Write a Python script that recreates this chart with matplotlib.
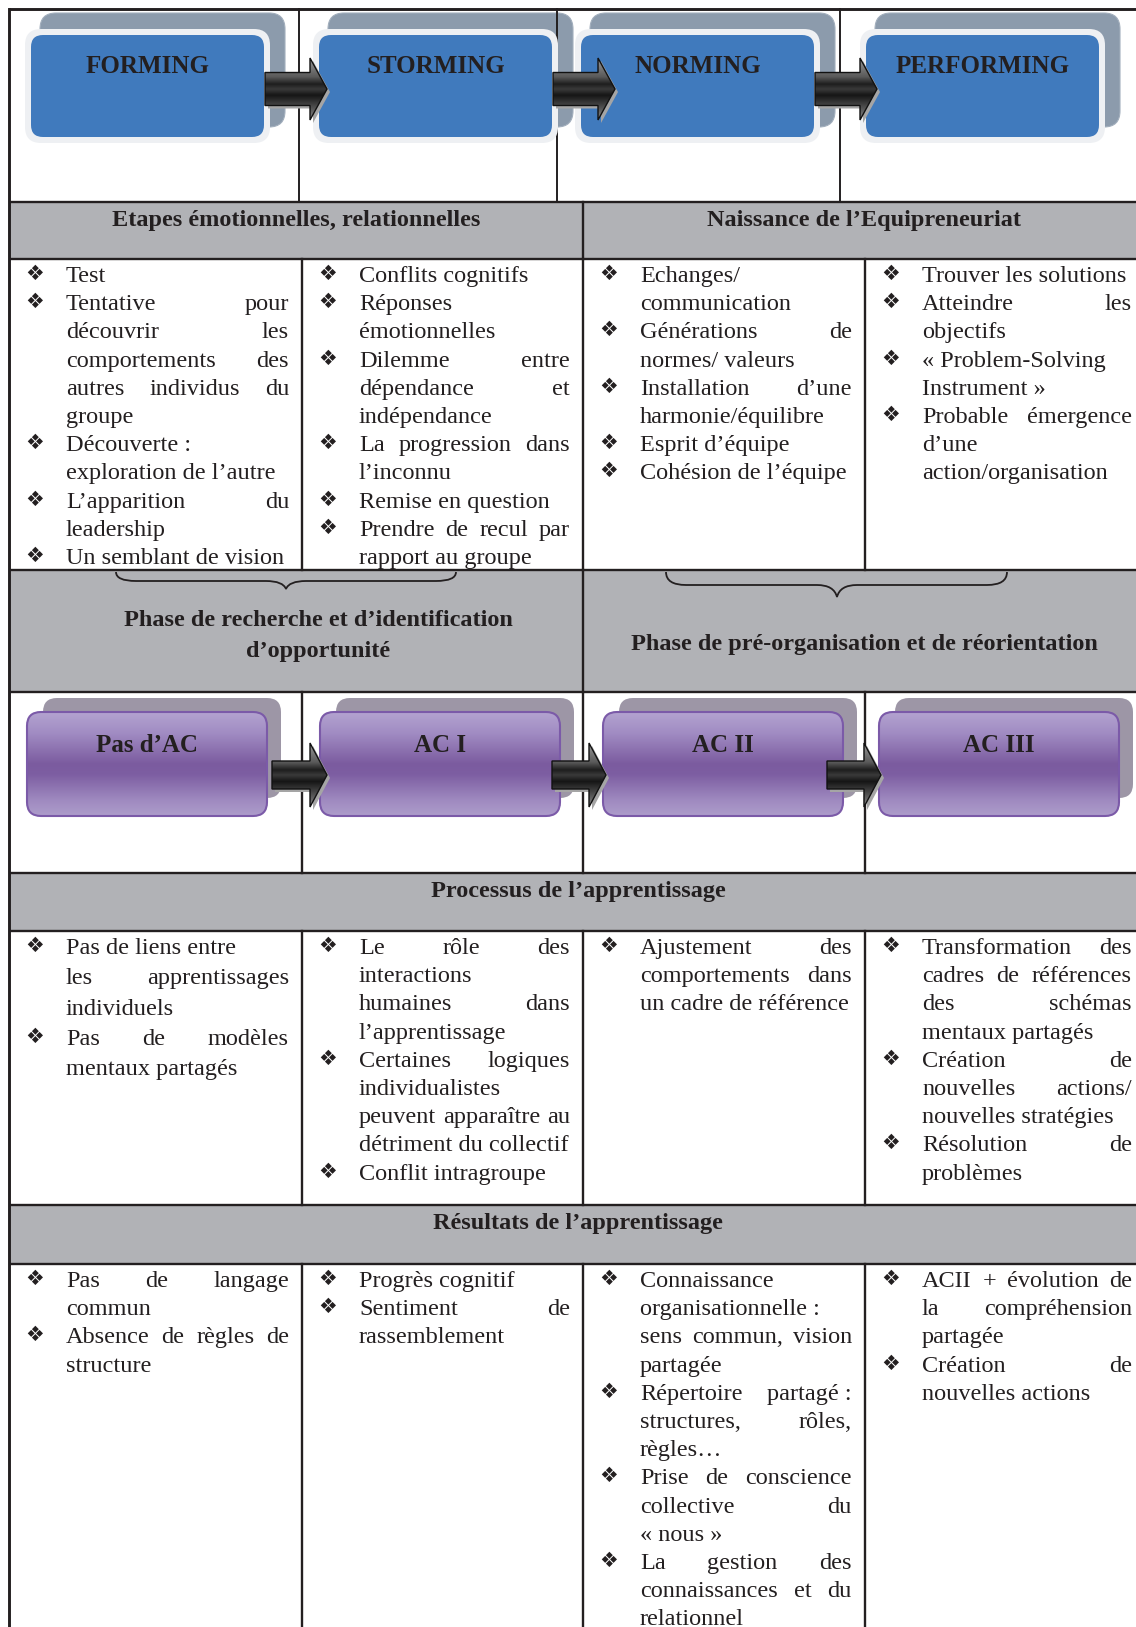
import numpy as np
import matplotlib
matplotlib.use("Agg")
import matplotlib.pyplot as plt
from matplotlib.patches import FancyBboxPatch, Polygon, PathPatch, Rectangle
from matplotlib.path import Path
from matplotlib.colors import LinearSegmentedColormap

W, H = 1136, 1627
SERIF = "Liberation Serif"
INK = "#231f20"
GRAY = "#b1b2b6"
NB = "\u00a0"

# --- contenu du tableau ---
STAGES = ["FORMING", "STORMING", "NORMING", "PERFORMING"]
AC_LEVELS = ["Pas d\u2019AC", "AC I", "AC II", "AC III"]
HEAD_1 = ["Etapes émotionnelles, relationnelles", "Naissance de l\u2019Equipreneuriat"]
PHASES = [["Phase de recherche et d\u2019identification", "d\u2019opportunité"],
          ["Phase de pré-organisation et de réorientation"]]
HEAD_2 = "Processus de l\u2019apprentissage"
HEAD_3 = "Résultats de l\u2019apprentissage"

STAGE_ITEMS = [
    [["Test"],
     ["Tentative pour", "découvrir les", "comportements des", "autres individus du", "groupe"],
     ["Découverte" + NB + ":", "exploration de l\u2019autre"],
     ["L\u2019apparition du", "leadership"],
     ["Un semblant de vision"]],
    [["Conflits cognitifs"],
     ["Réponses", "émotionnelles"],
     ["Dilemme entre", "dépendance et", "indépendance"],
     ["La progression dans", "l\u2019inconnu"],
     ["Remise en question"],
     ["Prendre de recul par", "rapport au groupe"]],
    [["Echanges/", "communication"],
     ["Générations de", "normes/ valeurs"],
     ["Installation d\u2019une", "harmonie/équilibre"],
     ["Esprit d\u2019équipe"],
     ["Cohésion de l\u2019équipe"]],
    [["Trouver les solutions"],
     ["Atteindre les", "objectifs"],
     ["«" + NB + "Problem-Solving", "Instrument" + NB + "»"],
     ["Probable émergence", "d\u2019une", "action/organisation"]],
]

PROCESS_ITEMS = [
    [["Pas de liens entre", "les apprentissages", "individuels"],
     ["Pas de modèles", "mentaux partagés"]],
    [["Le rôle des", "interactions", "humaines dans", "l\u2019apprentissage"],
     ["Certaines logiques", "individualistes", "peuvent apparaître au", "détriment du collectif"],
     ["Conflit intragroupe"]],
    [["Ajustement des", "comportements dans", "un cadre de référence"]],
    [["Transformation des", "cadres de références", "des schémas", "mentaux partagés"],
     ["Création de", "nouvelles actions/", "nouvelles stratégies"],
     ["Résolution de", "problèmes"]],
]

RESULT_ITEMS = [
    [["Pas de langage", "commun"],
     ["Absence de règles de", "structure"]],
    [["Progrès cognitif"],
     ["Sentiment de", "rassemblement"]],
    [["Connaissance", "organisationnelle" + NB + ":", "sens commun, vision", "partagée"],
     ["Répertoire partagé" + NB + ":", "structures, rôles,", "règles…"],
     ["Prise de conscience", "collective du", "«" + NB + "nous" + NB + "»"],
     ["La gestion des", "connaissances et du", "relationnel"]],
    [["ACII + évolution de", "la compréhension", "partagée"],
     ["Création de", "nouvelles actions"]],
]

NO_JUSTIFY = {"Pas de liens entre"}

# --- mise en page (pixels) ---
X_TOP = [9, 299, 557, 840, 1145]
X_COL = [9, 302, 583, 865, 1145]
X_MID = 583
Y_ROWS = [9, 202, 259, 570, 692, 873, 931, 1205, 1264]
FS = 17.5
FS_HEAD = 17.5
FS_BOX = 18
STEP = 28.2

fig = plt.figure(figsize=(W / 100, H / 100), dpi=100)
ax = fig.add_axes([0, 0, 1, 1])
ax.set_xlim(0, W)
ax.set_ylim(H, 0)
ax.axis("off")
renderer = fig.canvas.get_renderer()


def gradient(patch, x0, x1, y0, y1, colors, stops, z):
    cmap = LinearSegmentedColormap.from_list("g", list(zip(stops, colors)))
    grad = np.linspace(0, 1, 256).reshape(-1, 1)
    im = ax.imshow(grad, cmap=cmap, extent=(x0, x1, y1, y0), aspect="auto",
                   zorder=z, interpolation="bilinear")
    im.set_clip_path(patch)


def arrow(xs, xt, yc, body, head, z=6):
    hl = 17
    pts = [(xs, yc - body), (xt - hl, yc - body), (xt - hl, yc - head), (xt, yc),
           (xt - hl, yc + head), (xt - hl, yc + body), (xs, yc + body)]
    sh = Polygon([(x + 3, y + 3) for x, y in pts], closed=True, fc="#a5a5a5", ec="none", zorder=z)
    ax.add_patch(sh)
    p = Polygon(pts, closed=True, fc="none", ec="#111111", lw=1.0, zorder=z + 2)
    ax.add_patch(p)
    clip = Polygon(pts, closed=True, fc="none", ec="none", zorder=z + 1)
    ax.add_patch(clip)
    gradient(clip, xs, xt, yc - head, yc + head,
             ["#9a9a9a", "#5a5a5a", "#1e1e1e", "#3a3a3a", "#151515", "#505050", "#8a8a8a"],
             [0, 0.3, 0.42, 0.5, 0.6, 0.8, 1], z + 1)


def brace(x0, x1, xt, ytop, ymid, ytip):
    r = 20
    verts = [(x0, ytop), (x0, ymid), (x0 + r, ymid), (xt - r, ymid),
             (xt - 3, ymid), (xt, ytip), (xt + 3, ymid), (xt + r, ymid),
             (x1 - r, ymid), (x1, ymid), (x1, ytop)]
    codes = [Path.MOVETO, Path.CURVE3, Path.CURVE3, Path.LINETO,
             Path.CURVE3, Path.CURVE3, Path.CURVE3, Path.CURVE3,
             Path.LINETO, Path.CURVE3, Path.CURVE3]
    ax.add_patch(PathPatch(Path(verts, codes), fc="none", ec=INK, lw=1.3, zorder=5))


def put_line(text, x0, x1, y, justify):
    words = text.split(" ")
    if not justify or len(words) == 1:
        ax.text(x0, y, text, fontfamily=SERIF, fontsize=FS, color=INK,
                va="baseline", ha="left", zorder=8)
        return
    arts = [ax.text(0, y, w, fontfamily=SERIF, fontsize=FS, color=INK,
                    va="baseline", ha="left", zorder=8) for w in words]
    widths = [a.get_window_extent(renderer).width for a in arts]
    gap = (x1 - x0 - sum(widths)) / (len(words) - 1)
    x = x0
    for a, w in zip(arts, widths):
        a.set_x(x)
        x += w + gap


def draw_cell(items, col, y_first, step):
    x_bul = X_COL[col] + 25.5
    x0 = X_COL[col] + 57
    x1 = X_COL[col + 1] - 13
    y = y_first
    for item in items:
        ax.text(x_bul, y - 8, "\u2756", fontfamily="DejaVu Sans", fontsize=15,
                color=INK, ha="center", va="center", zorder=8)
        for k, line in enumerate(item):
            justify = k < len(item) - 1 and line not in NO_JUSTIFY
            put_line(line, x0, x1, y, justify)
            y += step


# bandeaux gris
for ya, yb in [(202, 259), (570, 692), (873, 931), (1205, 1264)]:
    ax.add_patch(Rectangle((9, ya), W, yb - ya, fc=GRAY, ec="none", zorder=0))

# boites bleues (etapes de Tuckman)
for i, name in enumerate(STAGES):
    x = [25, 313, 575, 860][i]
    ax.add_patch(FancyBboxPatch((x + 15, 13), 245, 114, boxstyle="round,pad=0,rounding_size=16",
                                fc="#8c9bac", ec="#a3afbd", lw=0.8, zorder=1))
    ax.add_patch(FancyBboxPatch((x, 29), 245, 114, boxstyle="round,pad=0,rounding_size=16",
                                fc="#eef0f3", ec="none", zorder=3))
    ax.add_patch(FancyBboxPatch((x + 6, 35), 233, 102, boxstyle="round,pad=0,rounding_size=12",
                                fc="#407abd", ec="none", zorder=4))
    ax.text(x + 122.5, 73, name, fontfamily=SERIF, fontweight="bold", fontsize=FS_BOX,
            color=INK, ha="center", va="baseline", zorder=8)

for xs, xt in [(265, 327), (553, 615), (815, 877)]:
    arrow(xs, xt, 89, 16.5, 31)

# boites violettes (niveaux d'apprentissage)
for i, name in enumerate(AC_LEVELS):
    x = [27, 320, 603, 879][i]
    ax.add_patch(FancyBboxPatch((x + 16, 698), 238, 100, boxstyle="round,pad=0,rounding_size=14",
                                fc="#9d96a6", ec="none", zorder=1))
    fb = FancyBboxPatch((x, 712), 240, 104, boxstyle="round,pad=0,rounding_size=14",
                        fc="none", ec="#7b5aa8", lw=1.5, zorder=4)
    ax.add_patch(fb)
    clip = FancyBboxPatch((x, 712), 240, 104, boxstyle="round,pad=0,rounding_size=14",
                          fc="none", ec="none", zorder=3)
    ax.add_patch(clip)
    gradient(clip, x, x + 240, 712, 816,
             ["#b3a3d0", "#a18cc3", "#7b5b9f", "#7d5ea2", "#9f8ac0", "#ae9dcb"],
             [0, 0.2, 0.5, 0.6, 0.85, 1], 3)
    ax.text(x + 120, 752, name, fontfamily=SERIF, fontweight="bold", fontsize=FS_BOX,
            color=INK, ha="center", va="baseline", zorder=8)

for xs, xt in [(272, 327), (552, 606), (827, 881)]:
    arrow(xs, xt, 775, 14, 32)

# accolades
brace(116, 456, 286, 572, 581, 589)
brace(666, 1007, 837, 572, 585, 597)

# traits du tableau
LW = 1.7
ax.plot([9, W + 20], [9, 9], color=INK, lw=LW + 0.4, zorder=5, solid_capstyle="butt")
for y in Y_ROWS[1:]:
    ax.plot([9, W + 20], [y, y], color=INK, lw=LW, zorder=5, solid_capstyle="butt")
ax.plot([9, 9], [9, H + 20], color=INK, lw=LW + 0.4, zorder=5)
for x in X_TOP[1:4]:
    ax.plot([x, x], [9, 202], color=INK, lw=LW - 0.3, zorder=2)
for ya, yb in [(202, 259), (570, 692)]:
    ax.plot([X_MID, X_MID], [ya, yb], color=INK, lw=LW, zorder=5)
for ya, yb in [(259, 570), (692, 873), (931, 1205), (1264, H + 20)]:
    for x in X_COL[1:4]:
        ax.plot([x, x], [ya, yb], color=INK, lw=LW, zorder=5)

# titres des bandeaux
ax.text(296, 226, HEAD_1[0], fontfamily=SERIF, fontweight="bold", fontsize=FS_HEAD,
        color=INK, ha="center", va="baseline", zorder=8)
ax.text(864, 226, HEAD_1[1], fontfamily=SERIF, fontweight="bold", fontsize=FS_HEAD,
        color=INK, ha="center", va="baseline", zorder=8)
for k, line in enumerate(PHASES[0]):
    ax.text(318, 626 + 31 * k, line, fontfamily=SERIF, fontweight="bold", fontsize=FS_HEAD,
            color=INK, ha="center", va="baseline", zorder=8)
ax.text(864, 650, PHASES[1][0], fontfamily=SERIF, fontweight="bold", fontsize=FS_HEAD,
        color=INK, ha="center", va="baseline", zorder=8)
ax.text(578, 897, HEAD_2, fontfamily=SERIF, fontweight="bold", fontsize=FS_HEAD,
        color=INK, ha="center", va="baseline", zorder=8)
ax.text(578, 1229, HEAD_3, fontfamily=SERIF, fontweight="bold", fontsize=FS_HEAD,
        color=INK, ha="center", va="baseline", zorder=8)

# contenus des cellules
for c in range(4):
    draw_cell(STAGE_ITEMS[c], c, 282, STEP)
    draw_cell(PROCESS_ITEMS[c], c, 954, 30.3 if c == 0 else STEP)
    draw_cell(RESULT_ITEMS[c], c, 1287, STEP)

ax.set_xlim(0, W)
ax.set_ylim(H, 0)
fig.savefig("out.png", dpi=100)
